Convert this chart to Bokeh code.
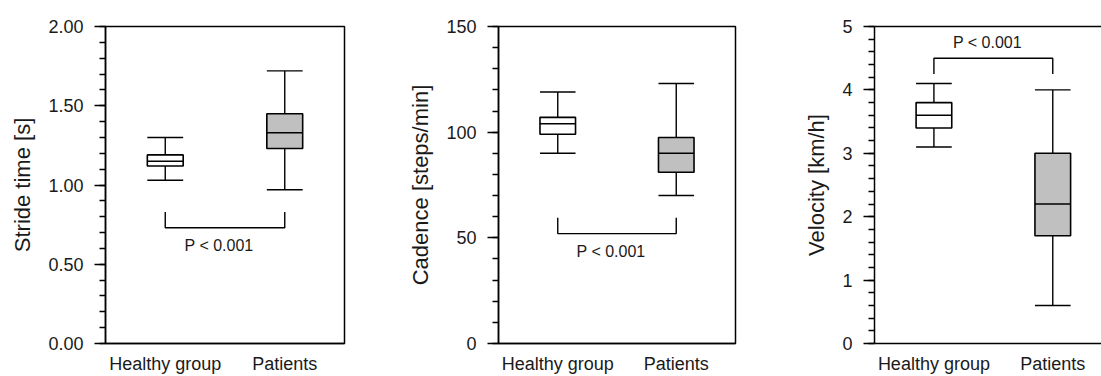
from bokeh.plotting import figure
from bokeh.layouts import row
from bokeh.models import (Range1d, SingleIntervalTicker, FixedTicker, NumeralTickFormatter,
                          ColumnDataSource, LinearAxis)
from bokeh.core.properties import value
from bokeh.embed import file_html
from bokeh.resources import INLINE

categories = ["Healthy group", "Patients"]

stride_min = [1.03, 0.97]
stride_q1 = [1.12, 1.23]
stride_med = [1.15, 1.33]
stride_q3 = [1.19, 1.45]
stride_max = [1.30, 1.72]

cad_min = [90, 70]
cad_q1 = [99, 81]
cad_med = [104, 90]
cad_q3 = [107, 97.5]
cad_max = [119, 123]

vel_min = [3.1, 0.6]
vel_q1 = [3.4, 1.7]
vel_med = [3.6, 2.2]
vel_q3 = [3.8, 3.0]
vel_max = [4.1, 4.0]

p_label = "P < 0.001"
# bracket: [y of horizontal bar, y of leg ends], text y
stride_bracket = [0.73, 0.83, 0.62]
cad_bracket = [52, 59.5, 43.5]
vel_bracket = [4.5, 4.25, 4.75]

FONT = "Liberation Sans"
TXT = "#1a1a1a"
BOX_W = 0.3
FILLS = ["white", "#c0c0c0"]


def make_panel(width, bl, br, ymax, interval, fmt, ylabel, mn, q1, med, q3, mx,
               bracket, x_end=2.0, full_outline=True):
    p = figure(width=width, height=376, output_backend="svg", toolbar_location=None,
               x_range=Range1d(0, x_end), y_range=Range1d(0, ymax),
               min_border_left=bl, min_border_right=br, min_border_top=26,
               min_border_bottom=32)
    p.grid.visible = False
    p.background_fill_color = "white"
    p.border_fill_color = "white"
    xa = p.below[0]
    ya = p.left[0]
    if full_outline:
        p.outline_line_color = "black"
        p.outline_line_width = 1.5
    else:
        p.outline_line_color = None
        top = LinearAxis(ticker=FixedTicker(ticks=[]), major_label_text_font_size="0px",
                         major_label_standoff=0,
                         major_tick_out=0, major_tick_in=0, minor_tick_out=0,
                         minor_tick_in=0, axis_line_width=1.5, axis_line_color="black")
        p.add_layout(top, "above")

    xs = [i + 0.5 for i in range(len(categories))]
    src = ColumnDataSource(dict(
        x=xs, x0=[x - BOX_W / 2 for x in xs], x1=[x + BOX_W / 2 for x in xs],
        mn=mn, q1=q1, med=med, q3=q3, mx=mx, fill=FILLS))

    # whisker stems
    p.segment(x0="x", y0="q3", x1="x", y1="mx", source=src, line_color="black", line_width=1.4)
    p.segment(x0="x", y0="q1", x1="x", y1="mn", source=src, line_color="black", line_width=1.4)
    # caps
    p.segment(x0="x0", y0="mx", x1="x1", y1="mx", source=src, line_color="black", line_width=1.4)
    p.segment(x0="x0", y0="mn", x1="x1", y1="mn", source=src, line_color="black", line_width=1.4)
    # boxes
    p.vbar(x="x", width=BOX_W, bottom="q1", top="q3", source=src, fill_color="fill",
           line_color="black", line_width=1.6)
    # medians
    p.segment(x0="x0", y0="med", x1="x1", y1="med", source=src, line_color="black",
              line_width=1.6)

    # significance bracket
    bar_y, leg_y, text_y = bracket
    p.line(x=[xs[0], xs[0], xs[1], xs[1]], y=[leg_y, bar_y, bar_y, leg_y],
           line_color="black", line_width=1.4)
    p.text(x=[(xs[0] + xs[1]) / 2 - 0.05], y=[text_y], text=[p_label],
           text_font=value(FONT), text_font_size="16px", text_color=TXT,
           text_align="center", text_baseline="middle")

    # y axis
    ya.ticker = SingleIntervalTicker(interval=interval, num_minor_ticks=5)
    if fmt:
        ya.formatter = NumeralTickFormatter(format=fmt)
    ya.axis_label = ylabel
    ya.axis_label_text_font = FONT
    ya.axis_label_text_font_size = "22px"
    ya.axis_label_text_font_style = "normal"
    ya.axis_label_text_color = TXT
    ya.axis_label_standoff = 10
    ya.major_label_text_font = FONT
    ya.major_label_text_font_size = "18px"
    ya.major_label_text_color = TXT
    ya.major_label_standoff = 11
    ya.major_tick_out = 11
    ya.major_tick_in = 0
    ya.minor_tick_out = 6
    ya.minor_tick_in = 0
    ya.axis_line_width = 1.5
    ya.major_tick_line_width = 1.5
    ya.minor_tick_line_width = 1.5
    ya.axis_line_color = "black"

    # x axis
    xa.ticker = FixedTicker(ticks=xs)
    xa.major_label_overrides = {x: c for x, c in zip(xs, categories)}
    xa.major_label_text_font = FONT
    xa.major_label_text_font_size = "18px"
    xa.major_label_text_line_height = 0.8
    xa.major_label_text_color = TXT
    xa.major_label_standoff = 10
    xa.major_tick_out = 0
    xa.major_tick_in = 0
    xa.minor_tick_out = 0
    xa.minor_tick_in = 0
    xa.axis_line_width = 1.5
    xa.axis_line_color = "black"
    return p


p1 = make_panel(400, 105, 56, 2.0, 0.5, "0.00", "Stride time [s]",
                stride_min, stride_q1, stride_med, stride_q3, stride_max, stride_bracket)
p2 = make_panel(380, 98, 45, 150, 50, None, "Cadence [steps/min]",
                cad_min, cad_q1, cad_med, cad_q3, cad_max, cad_bracket)
p3 = make_panel(321, 94, 0, 5, 1, None, "Velocity [km/h]",
                vel_min, vel_q1, vel_med, vel_q3, vel_max, vel_bracket,
                x_end=1.91, full_outline=False)

layout = row(p1, p2, p3, spacing=0)
open("out.html", "w").write(file_html(layout, INLINE))
